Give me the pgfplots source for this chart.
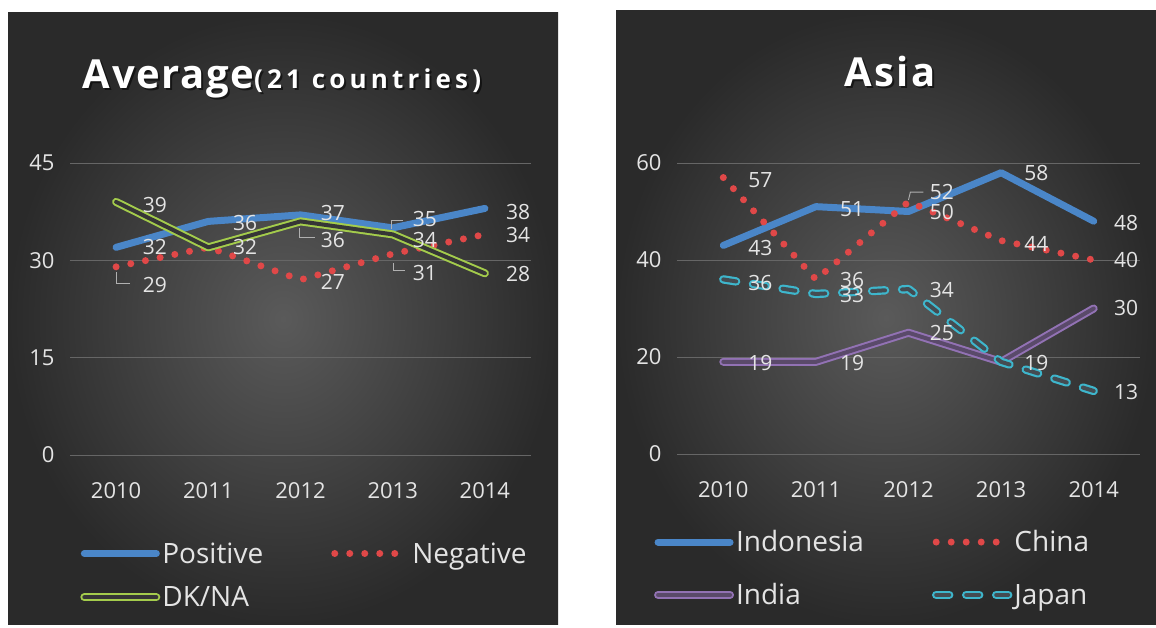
\documentclass[border=0pt]{standalone}
\usepackage{fontspec}
\setmainfont{Open Sans}
\usepackage{pgfplots}
\pgfplotsset{compat=1.18}
\definecolor{bgin}{HTML}{5A5A5A}
\definecolor{bgout}{HTML}{2A2A2A}
\definecolor{txt}{HTML}{E4E4E4}
\definecolor{gridc}{HTML}{666666}
\definecolor{leader}{HTML}{B0B0B0}
\definecolor{cblue}{HTML}{4A86C8}
\definecolor{cred}{HTML}{E04848}
\definecolor{cgreen}{HTML}{A4CC4C}
\definecolor{cgreenin}{HTML}{363636}
\definecolor{cpurple}{HTML}{9272B4}
\definecolor{cpurplein}{HTML}{5A4A6A}
\definecolor{ccyan}{HTML}{3EB6CC}
\definecolor{ccyanin}{HTML}{444C52}
\pgfplotsset{
  panel/.style={
    scale only axis,
    xmin=-0.5, xmax=4.5, xtick={0,...,4},
    xticklabels={2010,2011,2012,2013,2014},
    ymajorgrids, grid style={gridc, line width=0.8pt},
    axis line style={draw=none}, major tick length=0pt,
    tick label style={txt, font=\fontsize{22}{26}\selectfont},
    xticklabel style={yshift=-24pt},
    yticklabel style={xshift=-12pt},
    /pgf/number format/assume math mode=true,
    clip=false, no markers,
    legend cell align=left, legend columns=2,
    legend style={draw=none, fill=none, text=txt,
      font=\fontsize{28}{32}\selectfont, anchor=north west,
      inner sep=0pt, nodes={inner sep=2pt},
      /tikz/every even column/.append style={column sep=66pt}},
    legend image code/.code={\draw[##1] (0pt,0pt) -- (72pt,0pt);},
  },
  sblue/.style={cblue, line width=7pt, line cap=round, line join=round},
  sred/.style={cred, line width=7pt, line cap=round, dash pattern=on 0pt off 15pt},
  sgreen/.style={draw=cgreen, line width=2pt, double=cgreenin, double distance=4pt, line cap=round, line join=round},
  spurple/.style={draw=cpurple, line width=2pt, double=cpurplein, double distance=4pt, line cap=round, line join=round},
  scyan/.style={draw=ccyan, line width=2.2pt, double=ccyanin, double distance=4pt, line cap=round, line join=round, dash pattern=on 13pt off 17pt},
}
\tikzset{lab/.style={text=txt, font=\fontsize{21}{24}\selectfont, inner sep=0pt},
  ld/.style={leader, line width=0.9pt}}
\begin{document}
\begin{tikzpicture}[x=1pt,y=1pt]
\path[use as bounding box] (0,0) rectangle (1156,628);
\fill[white] (0,0) rectangle (1156,628);
\shade[inner color=bgin, outer color=bgout] (8,3) rectangle (558,615);
\shade[inner color=bgin, outer color=bgout] (616,3) rectangle (1156,617);
% titles
\node[anchor=base, text=black, opacity=0.55] at (284,537) {{\fontsize{40}{48}\selectfont\bfseries\addfontfeature{LetterSpace=4}Average}{\fontsize{26}{30}\selectfont\bfseries\addfontfeature{LetterSpace=16}(21 countries)}};
\node[anchor=base, text=white] at (282,539) {{\fontsize{40}{48}\selectfont\bfseries\addfontfeature{LetterSpace=4}Average}{\fontsize{26}{30}\selectfont\bfseries\addfontfeature{LetterSpace=16}(21 countries)}};
\node[anchor=base, text=black, opacity=0.55] at (892,539) {\fontsize{40}{48}\selectfont\bfseries\addfontfeature{LetterSpace=6}Asia};
\node[anchor=base, text=white] at (890,541) {\fontsize{40}{48}\selectfont\bfseries\addfontfeature{LetterSpace=6}Asia};

\begin{axis}[panel, name=axA, at={(70pt,173pt)}, anchor=south west, width=461pt, height=292pt,
  ymin=0, ymax=45, ytick={0,15,30,45},
  legend style={at={(0.022,-0.292)}, row sep=18pt}]
\addplot[sblue] coordinates {(0,32) (1,36) (2,37) (3,35) (4,38)};
\addplot[sred] coordinates {(0,29) (1,32) (2,27) (3,31) (4,34)};
\addplot[sgreen] coordinates {(0,39) (1,32) (2,36) (3,34) (4,28)};
\legend{Positive,Negative,DK/NA}
\node[lab] at (axis cs:0.42,38.5) {39};
\node[lab] at (axis cs:0.42,32.1) {32};
\node[lab] at (axis cs:0.42,26.2) {29};
\node[lab] at (axis cs:1.40,35.8) {36};
\node[lab] at (axis cs:1.40,32.1) {32};
\node[lab] at (axis cs:2.35,37.3) {37};
\node[lab] at (axis cs:2.35,33.1) {36};
\node[lab] at (axis cs:2.35,26.7) {27};
\node[lab] at (axis cs:3.35,36.4) {35};
\node[lab] at (axis cs:3.35,33.1) {34};
\node[lab] at (axis cs:3.35,28.0) {31};
\node[lab] at (axis cs:4.36,37.4) {38};
\node[lab] at (axis cs:4.36,33.9) {34};
\node[lab] at (axis cs:4.36,27.9) {28};
\draw[ld] (axis cs:0.0,28.2) -- (axis cs:0.0,26.5) -- (axis cs:0.15,26.5);
\draw[ld] (axis cs:1.99,35.0) -- (axis cs:1.99,33.6) -- (axis cs:2.16,33.6);
\draw[ld] (axis cs:2.99,34.8) -- (axis cs:2.99,36.1) -- (axis cs:3.11,36.1);
\draw[ld] (axis cs:3.01,29.6) -- (axis cs:3.01,28.5) -- (axis cs:3.13,28.5);
\end{axis}

\begin{axis}[panel, name=axB, at={(677pt,174pt)}, anchor=south west, width=463pt, height=291pt,
  ymin=0, ymax=60, ytick={0,20,40,60},
  legend style={at={(-0.05,-0.256)}, row sep=26pt}]
\addplot[sblue] coordinates {(0,43) (1,51) (2,50) (3,58) (4,48)};
\addplot[sred] coordinates {(0,57) (1,36) (2,52) (3,44) (4,40)};
\addplot[spurple] coordinates {(0,19) (1,19) (2,25) (3,19) (4,30)};
\addplot[scyan] coordinates {(0,36) (1,33) (2,34) (3,19) (4,13)};
\legend{Indonesia,China,India,Japan}
\node[lab] at (axis cs:0.40,56.5) {57};
\node[lab] at (axis cs:0.40,42.5) {43};
\node[lab] at (axis cs:0.40,35.3) {36};
\node[lab] at (axis cs:0.40,18.8) {19};
\node[lab] at (axis cs:1.39,50.5) {51};
\node[lab] at (axis cs:1.39,35.9) {36};
\node[lab] at (axis cs:1.39,32.8) {33};
\node[lab] at (axis cs:1.39,18.8) {19};
\node[lab] at (axis cs:2.36,54.0) {52};
\node[lab] at (axis cs:2.36,49.9) {50};
\node[lab] at (axis cs:2.36,33.8) {34};
\node[lab] at (axis cs:2.36,24.9) {25};
\node[lab] at (axis cs:3.38,57.9) {58};
\node[lab] at (axis cs:3.38,43.3) {44};
\node[lab] at (axis cs:3.38,18.8) {19};
\node[lab] at (axis cs:4.35,47.6) {48};
\node[lab] at (axis cs:4.35,40.0) {40};
\node[lab] at (axis cs:4.35,30.1) {30};
\node[lab] at (axis cs:4.35,12.8) {13};
\draw[ld] (axis cs:2.0,52.4) -- (axis cs:2.02,54.0) -- (axis cs:2.16,54.0);
\end{axis}
\end{tikzpicture}
\end{document}
